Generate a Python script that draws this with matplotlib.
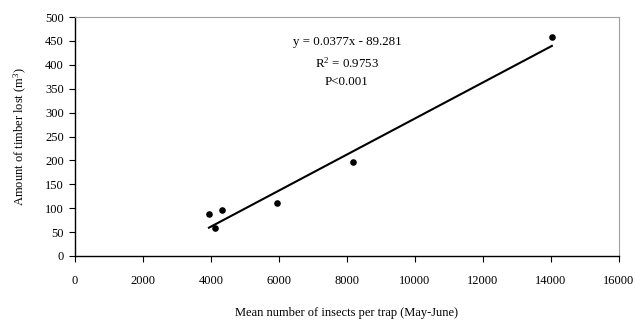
import numpy as np
import matplotlib
matplotlib.use("Agg")
import matplotlib.pyplot as plt

plt.rcParams['font.family'] = ['Liberation Serif', 'DejaVu Serif']
plt.rcParams['mathtext.fontset'] = 'custom'
plt.rcParams['mathtext.rm'] = 'Liberation Serif'

# Data
insects = [3940, 4120, 4320, 5930, 8180, 14030]
timber = [87, 58, 96, 111, 196, 458]

# Regression line as printed on the chart
slope = 0.0377
intercept = -89.281

fig = plt.figure(figsize=(6.36, 3.22), dpi=100)
ax = fig.add_axes([0.118, 0.205, 0.855, 0.742])

ax.scatter(insects, timber, s=14, color='black', zorder=3)
xl = np.array([min(insects), max(insects)])
ax.plot(xl, slope * xl + intercept, color='black', linewidth=1.5)

ax.set_xlim(0, 16000)
ax.set_ylim(0, 500)
ax.set_xticks(range(0, 16001, 2000))
ax.set_yticks(range(0, 501, 50))
ax.tick_params(axis='x', direction='out', length=4, pad=10, labelsize=9)
ax.tick_params(axis='y', direction='out', length=4, pad=4, labelsize=9)

for s in ['top', 'right']:
    ax.spines[s].set_color('#a0a0a0')
for s in ['left', 'bottom']:
    ax.spines[s].set_color('black')
    ax.spines[s].set_linewidth(1.0)

ax.set_xlabel("Mean number of insects per trap (May-June)", fontsize=9, labelpad=14)
ax.set_ylabel("Amount of timber lost (m$\\mathrm{^3}$)", fontsize=9, labelpad=12)

ax.text(0.50, 0.894, "y = 0.0377x - 89.281", transform=ax.transAxes,
        ha='center', va='center', fontsize=9.3)
ax.text(0.50, 0.805, "R$\\mathrm{^2}$ = 0.9753", transform=ax.transAxes,
        ha='center', va='center', fontsize=9.3)
ax.text(0.50, 0.73, "P<0.001", transform=ax.transAxes,
        ha='center', va='center', fontsize=9.3)

fig.savefig("out.png", dpi=100)
